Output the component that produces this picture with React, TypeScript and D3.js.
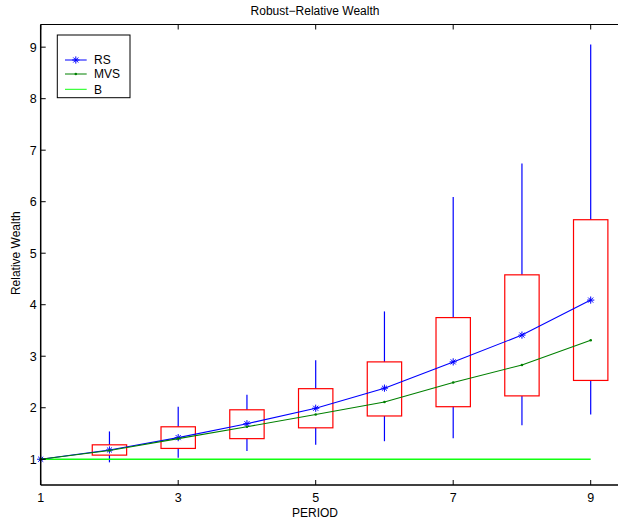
import React from "react";
import * as d3 from "d3";

const periods = [1, 2, 3, 4, 5, 6, 7, 8, 9];
const rsMean = [1, 1.18, 1.42, 1.69, 1.99, 2.38, 2.89, 3.41, 4.09];
const mvsMean = [1, 1.17, 1.4, 1.63, 1.87, 2.11, 2.49, 2.83, 3.31];
const bValues = [1, 1, 1, 1, 1, 1, 1, 1, 1];
const boxLow = [1, 1.08, 1.21, 1.4, 1.61, 1.84, 2.02, 2.23, 2.53];
const boxHigh = [1, 1.28, 1.63, 1.96, 2.37, 2.89, 3.75, 4.58, 5.65];
const whiskerLow = [1, 0.94, 1.03, 1.16, 1.28, 1.35, 1.41, 1.66, 1.87];
const whiskerHigh = [1, 1.54, 2.02, 2.25, 2.92, 3.87, 6.09, 6.74, 9.05];
const xTicks = [1, 3, 5, 7, 9];
const yTicks = [1, 2, 3, 4, 5, 6, 7, 8, 9];
const legendLabels = ["RS", "MVS", "B"];

const W = 618;
const H = 518;
const FONT = "'Liberation Sans', Arial, Helvetica, sans-serif";

export default function App() {
  const x = d3.scaleLinear().domain([1, 9]).range([40.7, 590.7]);
  const y = d3.scaleLinear().domain([0.5, 9.44]).range([485, 24.5]);
  const left = 40.7;
  const top = 24.5;
  const bottom = 485;
  const right = 640;
  const line = d3
    .line<number>()
    .x((_, i) => x(periods[i]))
    .y((d) => y(d));
  const halfW = x(1.25) - x(1);

  const star = (cx: number, cy: number, key: string) => {
    const r = 3.6;
    return (
      <g key={key} stroke="#0000ff" strokeWidth={1}>
        <line x1={cx - r} y1={cy} x2={cx + r} y2={cy} />
        <line x1={cx} y1={cy - r} x2={cx} y2={cy + r} />
        <line x1={cx - r * 0.7} y1={cy - r * 0.7} x2={cx + r * 0.7} y2={cy + r * 0.7} />
        <line x1={cx - r * 0.7} y1={cy + r * 0.7} x2={cx + r * 0.7} y2={cy - r * 0.7} />
      </g>
    );
  };

  return (
    <svg width={W} height={H} style={{ display: "block", position: "absolute", left: 0, top: 0 }}>
      <rect x={0} y={0} width={W} height={H} fill="#ffffff" />
      {/* whiskers */}
      {periods.map((p, i) => (
        <g key={"w" + i} stroke="#0000ff" strokeWidth={1.2}>
          {whiskerHigh[i] > boxHigh[i] && (
            <line x1={x(p)} x2={x(p)} y1={y(boxHigh[i])} y2={y(whiskerHigh[i])} />
          )}
          {whiskerLow[i] < boxLow[i] && (
            <line x1={x(p)} x2={x(p)} y1={y(boxLow[i])} y2={y(whiskerLow[i])} />
          )}
        </g>
      ))}
      {/* boxes */}
      {periods.map((p, i) =>
        boxHigh[i] > boxLow[i] ? (
          <rect
            key={"b" + i}
            x={x(p) - halfW}
            y={y(boxHigh[i])}
            width={2 * halfW}
            height={y(boxLow[i]) - y(boxHigh[i])}
            fill="none"
            stroke="#ff0000"
            strokeWidth={1.2}
          />
        ) : null
      )}
      {/* B line */}
      <path d={line(bValues) || ""} fill="none" stroke="#11ff11" strokeWidth={1.5} />
      {/* RS line */}
      <path d={line(rsMean) || ""} fill="none" stroke="#0000ff" strokeWidth={1.1} />
      {rsMean.map((v, i) => star(x(periods[i]), y(v), "s" + i))}
      {/* MVS line */}
      <path d={line(mvsMean) || ""} fill="none" stroke="#008000" strokeWidth={1.1} />
      {mvsMean.map((v, i) => (
        <circle key={"m" + i} cx={x(periods[i])} cy={y(v)} r={1.3} fill="#008000" />
      ))}

      {/* axes */}
      <line x1={left} x2={right} y1={top} y2={top} stroke="#000" strokeWidth={1} />
      <line x1={left} x2={right} y1={bottom} y2={bottom} stroke="#000" strokeWidth={1.5} />
      <line x1={left} x2={left} y1={top} y2={bottom} stroke="#000" strokeWidth={1.5} />
      {xTicks.map((t) => (
        <g key={"xt" + t}>
          <line x1={x(t)} x2={x(t)} y1={bottom} y2={bottom - 5} stroke="#000" />
          <line x1={x(t)} x2={x(t)} y1={top} y2={top + 5} stroke="#000" />
          <text x={x(t)} y={501.5} textAnchor="middle" fontFamily={FONT} fontSize={12.5}>
            {t}
          </text>
        </g>
      ))}
      {yTicks.map((t) => (
        <g key={"yt" + t}>
          <line x1={left} x2={left + 5} y1={y(t)} y2={y(t)} stroke="#000" />
          <text x={left - 4} y={y(t) + 4.5} textAnchor="end" fontFamily={FONT} fontSize={12.5}>
            {t}
          </text>
        </g>
      ))}
      <text x={315} y={15} textAnchor="middle" fontFamily={FONT} fontSize={12}>
        Robust−Relative Wealth
      </text>
      <text x={315} y={516.5} textAnchor="middle" fontFamily={FONT} fontSize={12}>
        PERIOD
      </text>
      <text
        transform={`translate(20,${y(5)}) rotate(-90)`}
        textAnchor="middle"
        fontFamily={FONT}
        fontSize={12}
      >
        Relative Wealth
      </text>

      {/* legend */}
      <rect x={57.3} y={35} width={72.7} height={62.7} fill="#fff" stroke="#000" strokeWidth={1} />
      {legendLabels.map((lab, i) => {
        const ly = [60, 74, 89.3][i];
        const col = ["#0000ff", "#008000", "#11ff11"][i];
        return (
          <g key={"lg" + i}>
            <line x1={65} x2={86.7} y1={ly} y2={ly} stroke={col} strokeWidth={1} />
            {i === 0 && star(75.8, ly, "ls")}
            {i === 1 && <circle cx={75.8} cy={ly} r={1.3} fill="#008000" />}
            <text x={94} y={ly + 4.3} fontFamily={FONT} fontSize={12}>
              {lab}
            </text>
          </g>
        );
      })}
    </svg>
  );
}
